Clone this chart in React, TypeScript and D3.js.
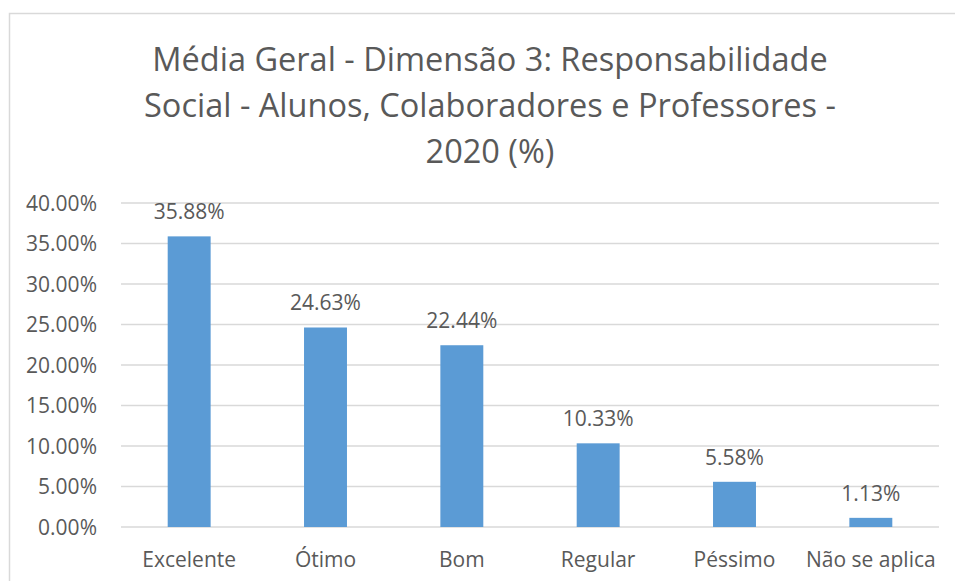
import React from 'react';
import * as d3 from 'd3';

const categories = ['Excelente', 'Ótimo', 'Bom', 'Regular', 'Péssimo', 'Não se aplica'];
const values = [35.88, 24.63, 22.44, 10.33, 5.58, 1.13];
const yTicks = [0, 5, 10, 15, 20, 25, 30, 35, 40];
const titleLines = [
  'Média Geral - Dimensão 3: Responsabilidade',
  'Social - Alunos, Colaboradores e Professores -',
  '2020 (%)',
];

const width = 955;
const height = 581;
const margin = { top: 203, right: 16, bottom: 54, left: 121 };
const font = '"Open Sans", Lato, sans-serif';
const textColor = '#595959';

export default function App() {
  const innerWidth = width - margin.left - margin.right;
  const innerHeight = height - margin.top - margin.bottom;

  const x = d3.scaleBand<string>()
    .domain(categories)
    .range([0, innerWidth])
    .paddingInner(0.685)
    .paddingOuter(0.3425);

  const y = d3.scaleLinear().domain([0, 40]).range([innerHeight, 0]);

  return (
    <svg
      width={width}
      height={height}
      style={{ position: 'absolute', left: 0, top: 0, background: '#fff' }}
      fontFamily={font}
    >
      {/* chart area border */}
      <rect x={9.5} y={13.5} width={width} height={height} fill="none" stroke="#d9d9d9" strokeWidth={1.5} />

      {titleLines.map((line, i) => (
        <text
          key={i}
          x={490}
          y={71 + i * 46}
          textAnchor="middle"
          fontSize={32.5}
          fill={textColor}
        >
          {line}
        </text>
      ))}

      <g transform={`translate(${margin.left},${margin.top})`}>
        {yTicks.map(t => (
          <g key={t}>
            <line x1={0} x2={innerWidth} y1={y(t)} y2={y(t)} stroke="#d9d9d9" strokeWidth={1.3} />
            <text x={-24} y={y(t)} dy="0.36em" textAnchor="end" fontSize={21} fill={textColor}>
              {t.toFixed(2)}%
            </text>
          </g>
        ))}

        {categories.map((c, i) => (
          <g key={c}>
            <rect
              x={x(c)!}
              y={y(values[i])}
              width={x.bandwidth()}
              height={innerHeight - y(values[i])}
              fill="#5b9bd5"
            />
            <text
              x={x(c)! + x.bandwidth() / 2}
              y={y(values[i]) - 17}
              textAnchor="middle"
              fontSize={21}
              fill={textColor}
            >
              {values[i].toFixed(2)}%
            </text>
            <text
              x={x(c)! + x.bandwidth() / 2}
              y={innerHeight + 40}
              textAnchor="middle"
              fontSize={21}
              fill={textColor}
            >
              {c}
            </text>
          </g>
        ))}
      </g>
    </svg>
  );
}
